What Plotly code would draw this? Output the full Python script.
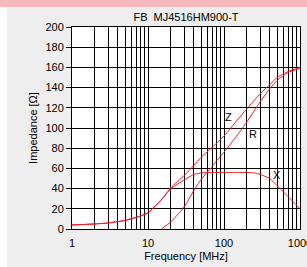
import math
import plotly.graph_objects as go

# ---- data ----
freq_z = [1, 2, 3, 5, 7, 10, 15, 20, 30, 40, 50, 70, 100, 150, 200, 300, 400, 500, 700, 1000]
z_vals = [4, 5, 6, 8.5, 11.5, 16, 29, 41, 53, 63, 71, 81, 92, 108, 119, 134, 143, 150, 156, 160]

freq_r = [15, 20, 25, 30, 40, 50, 60, 70, 90, 110, 150, 200, 300, 400, 500, 700, 1000]
r_vals = [0, 7, 15, 22, 38, 49, 56, 62, 72, 80, 93, 106, 126, 139, 147, 155, 159]

freq_x = [1, 2, 3, 5, 7, 10, 15, 20, 30, 40, 50, 70, 100, 150, 200, 250, 300, 400, 500, 700, 1000]
x_vals = [4, 5, 6, 8.5, 11.5, 16, 29, 40, 48.5, 54, 55.5, 56, 56, 56, 56, 55.5, 54, 50, 43, 32, 20]

x_tick_vals = [m * d for d in (1, 10, 100) for m in range(1, 10)] + [1000]
x_tick_text = [str(v) if v in (1, 10, 100, 1000) else "" for v in x_tick_vals]
y_tick_vals = list(range(0, 201, 20))

title_text = "FB\u00a0\u00a0MJ4516HM900-T"
curve_labels = [("Z", 114, 110.5), ("R", 243, 94.5), ("X", 503, 53)]

FONT = "Liberation Sans, Arial, sans-serif"
RED = "#ee1c25"

fig = go.Figure()
for fx, fy in ((freq_z, z_vals), (freq_r, r_vals), (freq_x, x_vals)):
    fig.add_trace(go.Scatter(x=fx, y=fy, mode="lines",
                             line=dict(color=RED, width=1, shape="spline", smoothing=0.5),
                             showlegend=False, hoverinfo="skip"))

for txt, fx, fy in curve_labels:
    fig.add_annotation(x=math.log10(fx), y=fy, xref="x", yref="y", text=txt, showarrow=False,
                       font=dict(size=11, color="black", family=FONT))

# decorative background bands (white left strip, pink top band)
fig.add_shape(type="rect", xref="paper", yref="paper", x0=-0.4, x1=-0.2842, y0=-0.3, y1=1.2,
              fillcolor="white", line_width=0, layer="below")
fig.add_shape(type="rect", xref="paper", yref="paper", x0=-0.4, x1=1.2, y0=1.099, y1=1.2,
              fillcolor="#f8b9bd", line_width=0, layer="below")

fig.update_layout(
    width=307, height=267, autosize=False,
    margin=dict(l=72, r=7, t=27, b=38),
    paper_bgcolor="#eeeeee",
    plot_bgcolor="white",
    font=dict(family=FONT, size=11, color="black"),
    title=dict(text=title_text, x=0.5, xref="paper", xanchor="center",
               y=1 - 17 / 267, yref="container", yanchor="middle",
               font=dict(size=11, color="black", family=FONT)),
)
fig.update_xaxes(type="log", range=[0, 3], tickmode="array", tickvals=x_tick_vals,
                 ticktext=x_tick_text, showgrid=True, gridcolor="black", gridwidth=1,
                 showline=True, linecolor="black", linewidth=1, mirror=True,
                 ticks="", zeroline=False, ticklabeloverflow="allow", ticklabelstandoff=4,
                 automargin=False,
                 title=dict(text="Frequency [MHz]", standoff=4, font=dict(size=11)))
fig.update_yaxes(range=[0, 200], tickmode="array", tickvals=y_tick_vals,
                 showgrid=True, gridcolor="black", gridwidth=1,
                 showline=True, linecolor="black", linewidth=1, mirror=True,
                 ticks="outside", ticklen=5, tickcolor="black", zeroline=False,
                 automargin=False,
                 title=dict(text="Impedance [Ω]", standoff=5, font=dict(size=11)))

fig.write_html(
    "out.html",
    config={"displayModeBar": False, "responsive": False},
    post_script="document.body.style.margin='0';document.body.style.overflow='hidden';"
                "document.documentElement.style.overflow='hidden';",
)
